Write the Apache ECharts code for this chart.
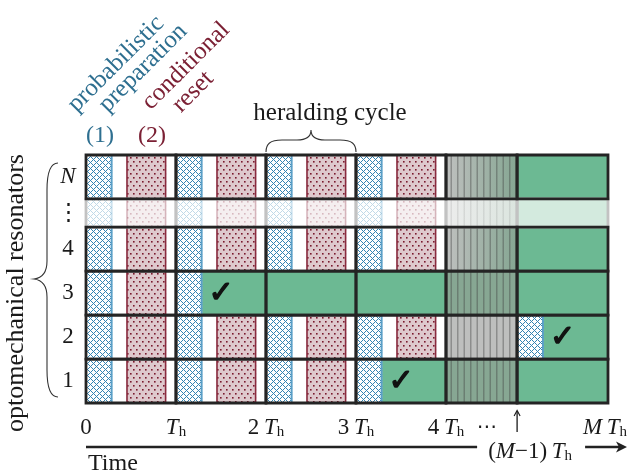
<!DOCTYPE html>
<html><head><meta charset="utf-8">
<script src="https://cdn.jsdelivr.net/npm/echarts@6/dist/echarts.min.js"></script>
<style>html,body{margin:0;padding:0;background:#fff}#c{width:631px;height:474px}</style>
</head><body><div id="c"></div>
<script>
// ---- data (time in units of the heralding cycle T_h; the gap 4..(M-1) is compressed) ----
const cycleEdges = [0, 1, 2, 3, 4, 4.79, 5.8];
const rowEdges = [0, 1, 2, 3, 4, 4.64, 5.64];
const rowLabels = ['1', '2', '3', '4', '⋮', '{i|N}'];
const tickValues = [0, 1, 2, 3, 4, 5.8];
const tickLabels = ['0', '{i|T}{s|h}', '2\u2009{i|T}{s|h}', '3\u2009{i|T}{s|h}', '4\u2009{i|T}{s|h}', '{i|M}\u2009{i|T}{s|h}'];
const markerValue = 4.79;
const markerLabel = '({i|M}−1)\u2009{i|T}{s|h}';
const prepEnd = 0.29, resetStart = 0.45, resetEnd = 0.89;
const row1 = ['cycle', 'cycle', 'cycle', 'herald', 'skipDone', 'done'];
const row2 = ['cycle', 'cycle', 'cycle', 'cycle', 'skip', 'herald'];
const row3 = ['cycle', 'herald', 'done', 'done', 'skipDone', 'done'];
const row4 = ['cycle', 'cycle', 'cycle', 'cycle', 'skipMixed', 'done'];
const rowDots = ['cycle', 'cycle', 'cycle', 'cycle', 'skipMixed', 'done'];
const rowN = ['cycle', 'cycle', 'cycle', 'cycle', 'skipMixed', 'done'];
const rows = [row1, row2, row3, row4, rowDots, rowN];
const fadedRow = 4;

// ---- styles ----
const SERIF = '"Liberation Serif", "DejaVu Serif", serif';
const GREEN = '#6cb993';
const INK = '#1a1a1a';
function makeTile(w, h, draw) {
  const c = document.createElement('canvas'); c.width = w; c.height = h;
  draw(c.getContext('2d')); return c;
}
const blueTile = makeTile(6, 6, ctx => {
  ctx.fillStyle = '#fff'; ctx.fillRect(0, 0, 6, 6);
  ctx.fillStyle = '#3484b2';
  for (let k = 0; k < 6; k++) {
    ctx.fillRect(k, k, 1, 1); ctx.fillRect((6 - k) % 6, k, 1, 1);
  }
});
const pinkTile = makeTile(6, 8, ctx => {
  ctx.fillStyle = '#dec9cd'; ctx.fillRect(0, 0, 6, 8);
  ctx.fillStyle = '#7a1a2e'; ctx.fillRect(1, 1, 1.6, 1.6); ctx.fillRect(4, 5, 1.6, 1.6);
});
const stripeTile = makeTile(13, 4, ctx => {
  ctx.fillStyle = 'rgba(60,60,60,0.38)'; ctx.fillRect(2, 0, 1.5, 4); ctx.fillRect(8.5, 0, 1.5, 4);
});
const pat = img => ({ type: 'pattern', image: img, repeat: 'repeat' });
const rich = {
  n: { fontSize: 23, fontFamily: SERIF, lineHeight: 24, verticalAlign: 'top' },
  i: { fontSize: 23, fontFamily: SERIF, fontStyle: 'italic', lineHeight: 24, verticalAlign: 'top' },
  s: { fontSize: 15, fontFamily: SERIF, lineHeight: 14, verticalAlign: 'bottom' }
};

// ---- series data built from arrays ----
const cellOrder = [fadedRow].concat(rows.map((r, i) => i).filter(i => i !== fadedRow));
const cellData = [];
cellOrder.forEach(ri => rows[ri].forEach((s, ci) => cellData.push([ci, ri])));

function renderCell(params, api) {
  const ci = api.value(0), ri = api.value(1);
  const state = rows[ri][ci];
  const x0 = cycleEdges[ci], x1 = cycleEdges[ci + 1], y0 = rowEdges[ri], y1 = rowEdges[ri + 1];
  const w = x1 - x0;
  const op = ri === fadedRow ? 0.3 : 1;
  const rect = (a, b) => {
    const p = api.coord([a, y1]), q = api.coord([b, y0]);
    return { x: p[0], y: p[1], width: q[0] - p[0], height: q[1] - p[1] };
  };
  const kids = [];
  const vline = (x, r, color, lw) => kids.push({ type: 'line', shape: { x1: x, y1: r.y, x2: x, y2: r.y + r.height }, style: { stroke: color, lineWidth: lw, opacity: op } });
  const addPrep = () => {
    const r = rect(x0, x0 + prepEnd * w);
    kids.push({ type: 'rect', shape: r, style: { fill: pat(blueTile), opacity: op } });
    vline(r.x + r.width - 0.5, r, '#5a9fc7', 2);
    return r;
  };
  if (state === 'cycle') {
    addPrep();
    const r = rect(x0 + resetStart * w, x0 + resetEnd * w);
    kids.push({ type: 'rect', shape: r, style: { fill: pat(pinkTile), opacity: op } });
    vline(r.x + 0.5, r, '#8a2b3f', 1.6);
    vline(r.x + r.width - 0.5, r, '#8a2b3f', 1.6);
  } else if (state === 'herald') {
    const g = rect(x0 + prepEnd * w, x1);
    kids.push({ type: 'rect', shape: g, style: { fill: GREEN, opacity: op } });
    addPrep();
    kids.push({ type: 'text', x: g.x + 19, y: g.y + g.height / 2 + 1,
      style: { text: '✓', font: 'bold 30px "DejaVu Sans"', fill: '#111', stroke: '#111', lineWidth: 1.4, align: 'center', verticalAlign: 'middle', opacity: op } });
  } else if (state === 'done') {
    kids.push({ type: 'rect', shape: rect(x0, x1), style: { fill: GREEN, opacity: op } });
  } else {
    const r = rect(x0, x1);
    let fill = '#bebfbe';
    if (state === 'skipDone') fill = '#87a793';
    if (state === 'skipMixed') fill = new echarts.graphic.LinearGradient(0, 0, 1, 0, [
      { offset: 0, color: '#bfc0bf' }, { offset: 1, color: '#85a692' }]);
    kids.push({ type: 'rect', shape: r, style: { fill: fill, opacity: op } });
    kids.push({ type: 'rect', shape: r, style: { fill: pat(stripeTile), opacity: op } });
  }
  return { type: 'group', children: kids };
}

function renderFrame(params, api) {
  const ci = api.value(0), ri = api.value(1);
  const p = api.coord([cycleEdges[ci], rowEdges[ri + 1]]), q = api.coord([cycleEdges[ci + 1], rowEdges[ri]]);
  return { type: 'rect', shape: { x: p[0], y: p[1], width: q[0] - p[0], height: q[1] - p[1] },
    style: { fill: 'none', stroke: ri === fadedRow ? '#c2c2c2' : '#242424', lineWidth: 2.8 } };
}

function renderTick(params, api) {
  const i = api.value(1);
  const p = api.coord([api.value(0), 0]);
  return { type: 'text', x: p[0] + (i === 5 ? -3 : 0), y: p[1] + 25,
    style: { text: tickLabels[i], rich: rich, font: '23px ' + SERIF, lineHeight: 24, fill: INK, align: 'center', verticalAlign: 'middle' } };
}

function renderRowLabel(params, api) {
  const i = api.value(1);
  const p = api.coord([0, (rowEdges[i] + rowEdges[i + 1]) / 2]);
  return { type: 'text', x: p[0] - 18, y: p[1],
    style: { text: rowLabels[i], rich: rich, font: '23px ' + SERIF, lineHeight: 24, fill: INK, align: 'center', verticalAlign: 'middle' } };
}

function renderAnno(params, api) {
  const o = api.coord([0, 0]);
  const top = api.coord([0, rowEdges[rowEdges.length - 1]])[1];
  const right = api.coord([cycleEdges[cycleEdges.length - 1], 0])[0];
  const c2 = api.coord([2, 0])[0], c3 = api.coord([3, 0])[0], c4 = api.coord([4, 0])[0];
  const mk = api.coord([markerValue, 0])[0];
  const ay = o[1] + 44;
  const mid = (top + o[1]) / 2;
  const kids = [];
  const txt = (text, x, y, extra, props) => kids.push(Object.assign({ type: 'text', x: x, y: y,
    style: Object.assign({ text: text, rich: rich, font: '23px ' + SERIF, lineHeight: 24, fill: INK, align: 'center', verticalAlign: 'middle' }, extra || {}) }, props || {}));
  // time arrow
  kids.push({ type: 'line', shape: { x1: o[0], y1: ay, x2: mk - 40, y2: ay }, style: { stroke: '#222', lineWidth: 2.6 } });
  kids.push({ type: 'line', shape: { x1: mk + 68, y1: ay, x2: right + 13, y2: ay }, style: { stroke: '#222', lineWidth: 2.6 } });
  kids.push({ type: 'polygon', shape: { points: [[right + 8, ay - 5.5], [right + 19, ay], [right + 8, ay + 5.5], [right + 11, ay]] }, style: { fill: '#222' } });
  txt(markerLabel, mk + 13, ay + 5);
  // marker arrow
  kids.push({ type: 'line', shape: { x1: mk, y1: o[1] + 29, x2: mk, y2: o[1] + 8 }, style: { stroke: INK, lineWidth: 1.3 } });
  kids.push({ type: 'polyline', shape: { points: [[mk - 3, o[1] + 13], [mk, o[1] + 7.5], [mk + 3, o[1] + 13]] }, style: { stroke: INK, lineWidth: 1.1, fill: 'none' } });
  txt('⋯', c4 + 41, o[1] + 25, { font: '20px "DejaVu Sans"' });
  txt('Time', o[0] + 2, o[1] + 61, { align: 'left', font: '24px ' + SERIF });
  // heralding cycle brace
  const xm = (c2 + c3) / 2, yb = top - 3, yt = top - 15;
  kids.push({ type: 'path', shape: { pathData:
    `M${c2} ${yb} C${c2} ${yt + 4} ${c2 + 4} ${yt} ${c2 + 16} ${yt} L${xm - 14} ${yt} C${xm - 5} ${yt} ${xm} ${yt - 3} ${xm} ${yt - 10} ` +
    `C${xm} ${yt - 3} ${xm + 5} ${yt} ${xm + 14} ${yt} L${c3 - 16} ${yt} C${c3 - 4} ${yt} ${c3} ${yt + 4} ${c3} ${yb}` },
    style: { stroke: '#333', lineWidth: 1.1, fill: 'none' } });
  txt('heralding cycle', c2 + 64, top - 42, { font: '25px ' + SERIF });
  // left brace
  const bx = o[0] - 28, by0 = top + 8, by1 = o[1] - 6;
  kids.push({ type: 'path', shape: { pathData:
    `M${bx} ${by0} C${bx - 8} ${by0} ${bx - 11} ${by0 + 9} ${bx - 11} ${by0 + 27} L${bx - 11} ${mid - 18} C${bx - 11} ${mid - 7} ${bx - 16} ${mid - 1} ${bx - 24} ${mid} ` +
    `C${bx - 16} ${mid + 1} ${bx - 11} ${mid + 7} ${bx - 11} ${mid + 18} L${bx - 11} ${by1 - 27} C${bx - 11} ${by1 - 9} ${bx - 8} ${by1} ${bx} ${by1}` },
    style: { stroke: '#333', lineWidth: 1.1, fill: 'none' } });
  txt('optomechanical resonators', o[0] - 70, mid + 14, { font: '26px ' + SERIF }, { rotation: Math.PI / 2 });
  // phase labels
  const BLUE_T = '#2e6f90', RED_T = '#7b2034';
  txt('probabilistic', o[0] + 30, top - 91, { fill: BLUE_T, font: '25px ' + SERIF }, { rotation: Math.PI / 4 });
  txt('preparation', o[0] + 57, top - 87, { fill: BLUE_T, font: '25px ' + SERIF }, { rotation: Math.PI / 4 });
  txt('conditional', o[0] + 100, top - 89, { fill: RED_T, font: '25px ' + SERIF }, { rotation: Math.PI / 4 });
  txt('reset', o[0] + 107, top - 63, { fill: RED_T, font: '25px ' + SERIF }, { rotation: Math.PI / 4 });
  txt('(1)', o[0] + 14, top - 19, { fill: BLUE_T, font: '24px ' + SERIF });
  txt('(2)', o[0] + 66, top - 19, { fill: RED_T, font: '24px ' + SERIF });
  return { type: 'group', children: kids };
}

const chart = echarts.init(document.getElementById('c'), null, { renderer: 'canvas' });
chart.setOption({
  animation: false,
  grid: { left: 86, right: 23, top: 155, bottom: 71 },
  xAxis: { type: 'value', min: 0, max: cycleEdges[cycleEdges.length - 1], show: false },
  yAxis: { type: 'value', min: 0, max: rowEdges[rowEdges.length - 1], show: false },
  series: [
    { type: 'custom', name: 'cells', renderItem: renderCell, data: cellData, z: 2, silent: true },
    { type: 'custom', name: 'frames', renderItem: renderFrame, data: cellData, z: 3, silent: true },
    { type: 'custom', name: 'ticks', renderItem: renderTick, data: tickValues.map((v, i) => [v, i]), z: 4, clip: false, silent: true },
    { type: 'custom', name: 'rows', renderItem: renderRowLabel, data: rowLabels.map((t, i) => [0, i]), z: 4, clip: false, silent: true },
    { type: 'custom', name: 'anno', renderItem: renderAnno, data: [[0, 0]], z: 4, clip: false, silent: true }
  ]
});
</script>
</body></html>
